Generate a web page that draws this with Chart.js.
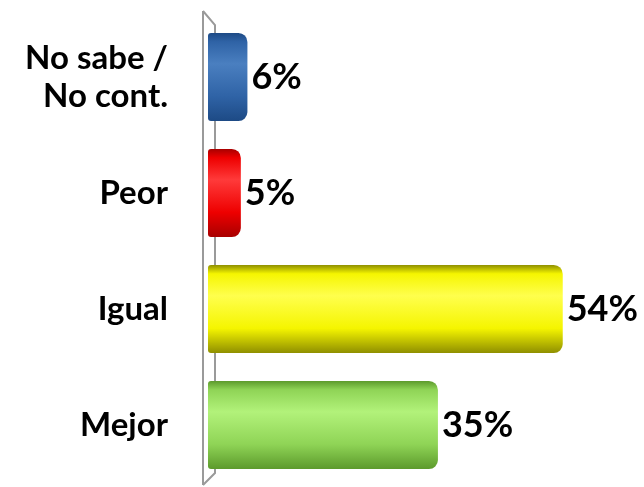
<!DOCTYPE html>
<html>
<head>
<meta charset="utf-8">
<script src="https://cdn.jsdelivr.net/npm/chart.js@4"></script>
<style>
  html, body { margin:0; padding:0; background:#fff; overflow:hidden; }
  canvas { display:block; }
</style>
</head>
<body>
<canvas id="chart" width="644" height="487"></canvas>
<script>
const categories = [['No sabe /', 'No cont.'], 'Peor', 'Igual', 'Mejor'];
const values = [6, 5, 54, 35];
const barColors = [
  ['#1d4a85', '#4a7fc0', '#2f63a6'],
  ['#a80000', '#ff3a3a', '#ee0000'],
  ['#8f8f00', '#ffff4d', '#f5f500'],
  ['#5c9a2c', '#b2f27a', '#8fd456']
];

// cylinder-like shading, dark at the edges and light near the top third
function barGradient(context){
  const chart = context.chart;
  const i = context.dataIndex;
  const y = chart.scales.y;
  const c = y ? y.getPixelForValue(i) : NaN;
  if (!isFinite(c)) return barColors[i][2];
  const h = 44;
  const g = chart.ctx.createLinearGradient(0, c - h, 0, c + h);
  const col = barColors[i];
  g.addColorStop(0, col[0]);
  g.addColorStop(0.1, col[2]);
  g.addColorStop(0.35, col[1]);
  g.addColorStop(0.72, col[2]);
  g.addColorStop(1, col[0]);
  return g;
}

// thin 3D wall along the category axis
const wallPlugin = {
  id: 'wall',
  beforeDatasetsDraw(chart){
    const { ctx, chartArea } = chart;
    const x0 = chartArea.left - 5, x1 = chartArea.left + 7;
    ctx.save();
    ctx.strokeStyle = '#9a9a9a';
    ctx.lineWidth = 2;
    ctx.beginPath();
    ctx.moveTo(x0, chartArea.top - 8);
    ctx.lineTo(x0, chartArea.bottom + 2);
    ctx.moveTo(x0, chartArea.top - 8);
    ctx.lineTo(x1, chartArea.top + 6);
    ctx.lineTo(x1, chartArea.bottom - 10);
    ctx.lineTo(x0, chartArea.bottom + 2);
    ctx.stroke();
    ctx.restore();
  }
};

// percentage labels after each bar
const valueLabels = {
  id: 'valueLabels',
  afterDatasetsDraw(chart){
    const { ctx } = chart;
    const meta = chart.getDatasetMeta(0);
    ctx.save();
    ctx.fillStyle = '#000';
    ctx.font = 'bold 36px Lato, "Open Sans", sans-serif';
    ctx.textAlign = 'left';
    ctx.textBaseline = 'middle';
    meta.data.forEach((bar, i) => {
      ctx.fillText(values[i] + '%', bar.x + 4, bar.y);
    });
    ctx.restore();
  }
};

new Chart(document.getElementById('chart'), {
  type: 'bar',
  data: {
    labels: categories,
    datasets: [{
      data: values,
      backgroundColor: barGradient,
      borderWidth: 0,
      borderRadius: { topLeft: 3, bottomLeft: 3, topRight: 9, bottomRight: 9 },
      borderSkipped: false,
      barPercentage: 0.76,
      categoryPercentage: 1
    }]
  },
  options: {
    indexAxis: 'y',
    responsive: false,
    animation: false,
    layout: { padding: { top: 19, bottom: 4, right: 9, left: 0 } },
    plugins: { legend: { display: false }, tooltip: { enabled: false } },
    scales: {
      x: {
        min: 0, max: 65,
        display: false,
        grid: { display: false }
      },
      y: {
        grid: { display: false, drawTicks: false },
        border: { display: false },
        afterFit(scale){
          scale.width = 208;
          scale.paddingTop = 0;
          scale.paddingBottom = 0;
        },
        ticks: {
          color: '#000',
          padding: 40,
          font: { family: 'Lato, "Open Sans", sans-serif', size: 33, weight: 'bold', lineHeight: 1.15 }
        }
      }
    }
  },
  plugins: [wallPlugin, valueLabels]
});
</script>
</body>
</html>
